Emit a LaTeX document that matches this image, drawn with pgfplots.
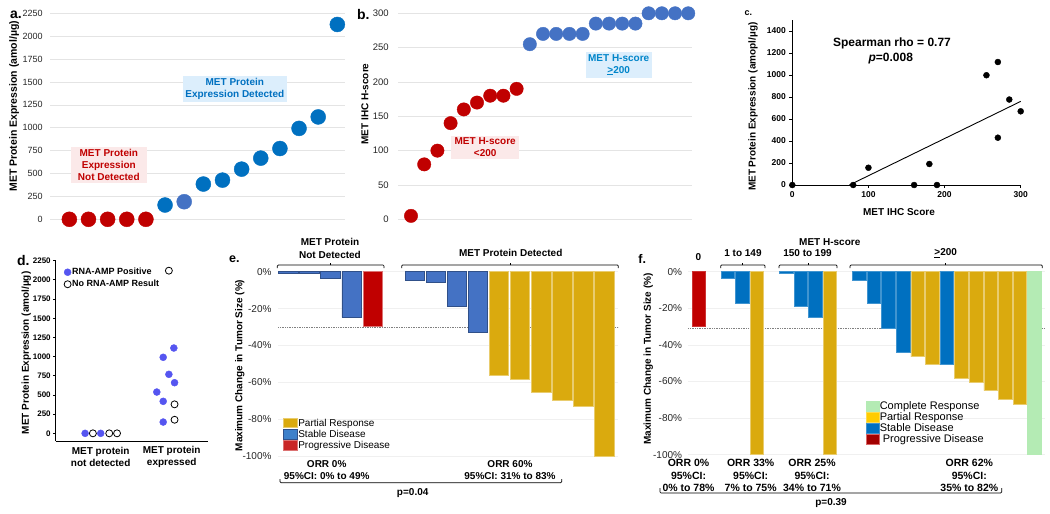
\documentclass[border=0pt]{standalone}
\usepackage{pgfplots}
\pgfplotsset{compat=1.18}
\usepackage{fontspec}
\setmainfont{Liberation Sans}
\definecolor{mred}{RGB}{192,0,0}
\definecolor{mblue}{RGB}{0,112,192}
\definecolor{mblueB}{RGB}{68,114,196}
\definecolor{myel}{RGB}{218,170,14}
\definecolor{myelL}{RGB}{255,204,0}
\definecolor{mgreen}{RGB}{180,235,180}
\definecolor{dviolet}{RGB}{85,85,240}
\definecolor{pinkbg}{RGB}{251,233,233}
\definecolor{bluebg}{RGB}{220,238,252}
\definecolor{gridc}{RGB}{228,228,228}
\definecolor{gridf}{RGB}{240,240,240}
\definecolor{txt}{RGB}{38,38,38}
\newcommand\fs[2]{\fontsize{#1}{#2}\selectfont}
\pgfplotsset{
  eb/.style={ybar, bar width=0.92, bar shift=0pt, forget plot, line width=0.6pt},
  base/.style={anchor=south west, scale only axis, clip=false,
    /pgf/number format/assume math mode=true, /pgf/number format/1000 sep={}},
}
\begin{document}
\begin{tikzpicture}
\useasboundingbox (0pt,0pt) rectangle (1050pt,-514pt);

% ---------------- Panel a ----------------
\begin{axis}[base, at={(50.2pt,-219.3pt)},
  width=294.8pt, height=206pt, xmin=0, xmax=15.4, ymin=0, ymax=2250,
  axis line style={draw=none}, xtick=\empty, ytick={0,250,...,2250},
  ymajorgrids, grid style={gridc, line width=0.7pt}, major tick length=0pt,
  yticklabel style={font=\fs{9}{10}, text=txt, xshift=-4pt}]
\addplot[only marks, mark=*, mark size=7.5pt, mred] coordinates {(1,0)(2,0)(3,0)(4,0)(5,0)};
\addplot[only marks, mark=*, mark size=7.5pt, mblue] coordinates {(6,156)(8,385)(9,428)(10,548)(11,668)(12,773)(13,993)(14,1118)(15,2128)};
\addplot[only marks, mark=*, mark size=7.5pt, mblueB] coordinates {(7,192)};
\end{axis}

% ---------------- Panel b ----------------
\begin{axis}[base, at={(397.8pt,-219.3pt)},
  width=294.4pt, height=206pt, xmin=0, xmax=22.3, ymin=0, ymax=300,
  axis line style={draw=none}, xtick=\empty, ytick={0,50,...,300},
  ymajorgrids, grid style={gridc, line width=0.7pt}, major tick length=0pt,
  yticklabel style={font=\fs{9.5}{10}, text=txt, xshift=-5.5pt}]
\addplot[only marks, mark=*, mark size=6.7pt, mred] coordinates {(1,5)(2,80)(3,100)(4,140)(5,160)(6,170)(7,180)(8,180)(9,190)};
\addplot[only marks, mark=*, mark size=6.7pt, mblueB] coordinates {(10,255)(11,270)(12,270)(13,270)(14,270)(15,285)(16,285)(17,285)(18,285)(19,300)(20,300)(21,300)(22,300)};
\end{axis}

% ---------------- Panel c ----------------
\begin{axis}[base, at={(792.3pt,-185pt)},
  width=228.4pt, height=165pt, xmin=0, xmax=300, ymin=0, ymax=1500,
  axis x line=bottom, axis y line=left, axis line style={line width=1pt, -},
  xtick={0,100,200,300}, ytick={0,200,...,1400},
  tick align=outside, major tick length=3pt, tick style={line width=0.8pt, black},
  ticklabel style={font=\bfseries\fs{8.5}{10}}]
\addplot[black, line width=0.9pt] coordinates {(75,0) (300,760)};
\addplot[only marks, mark=*, mark size=3pt, black] coordinates {(0,0)(80,0)(100,157)(160,0)(180,191)(190,0)(255,998)(270,1118)(285,777)(300,670)(270,430)};
\end{axis}

% ---------------- Panel d ----------------
\begin{axis}[base, at={(55.7pt,-441pt)},
  width=152.3pt, height=180.3pt, xmin=0.366, xmax=2.511, ymin=-100, ymax=2250,
  axis x line=bottom, axis y line=left, axis line style={line width=1pt,-},
  xtick=\empty, ytick={0,250,...,2250}, tick align=outside, major tick length=2.5pt,
  tick style={line width=0.8pt,black}, yticklabel style={font=\bfseries\fs{8}{9}, xshift=1pt},
  legend style={at={(0.054,0.965)}, anchor=north west, draw=none, fill=none,
    font=\bfseries\fs{9}{10}, inner sep=0pt, row sep=2pt, nodes={inner sep=1pt}},
  legend cell align=left,
  legend image code/.code={\draw[mark repeat=2,mark phase=2,#1] plot coordinates {(0pt,0pt)(4.5pt,0pt)(9pt,0pt)};}]
\addplot[only marks, mark=*, mark size=3.5pt, color=dviolet] coordinates {(0.78,0)(1.0,0)(1.88,991)(2.03,1112)(1.96,769)(2.04,660)(1.79,538)(1.88,417)(1.88,147)};
\addlegendentry{RNA-AMP Positive}
\addplot[only marks, mark=*, mark size=3.5pt, black, mark options={fill=white, line width=0.8pt}] coordinates {(0.89,0)(1.12,0)(1.23,0)(1.96,2120)(2.04,378)(2.04,177)};
\addlegendentry{No RNA-AMP Result}
\end{axis}

% ---------------- Panel e ----------------
\begin{axis}[base, at={(278.3pt,-456pt)},
  width=340pt, height=184.3pt, xmin=0.527, xmax=16.66, ymin=-100, ymax=0,
  axis line style={draw=none}, xtick=\empty,
  ytick={0,-20,-40,-60,-80,-100}, yticklabels={0\%,-20\%,-40\%,-60\%,-80\%,-100\%},
  ymajorgrids, grid style={gridf, line width=0.7pt}, major tick length=0pt,
  yticklabel style={font=\fs{10}{11}, text=txt, xshift=-3.3pt},
  legend style={at={(0.013,0.208)}, anchor=north west, draw=none, fill=none,
    font=\fs{10}{11}, inner sep=0pt, row sep=0.5pt, nodes={inner sep=1pt}},
  legend cell align=left,
  legend image code/.code={\draw[#1] (0pt,-4.2pt) rectangle (14pt,5.2pt);}]
\addplot[densely dotted, gray, line width=0.7pt, forget plot] coordinates {(0.527,-30)(16.66,-30)};
\addplot[eb, fill=mblueB, draw=mblueB!70!black] coordinates {(1,-0.8)(2,-0.8)(3,-3.6)(4,-24.8)(7,-4.5)(8,-5.8)(9,-18.6)(10,-32.7)};
\addplot[eb, fill=mred, draw=mred!55!white] coordinates {(5,-29.8)};
\addplot[eb, fill=myel, draw=myel!60!white] coordinates {(11,-56)(12,-58.6)(13,-65.3)(14,-69.8)(15,-73)(16,-100)};
\addlegendimage{fill=myel, draw=myel!60!white}\addlegendentry{Partial Response}
\addlegendimage{fill=mblueB!90!cyan, draw=mblueB!70!black}\addlegendentry{Stable Disease}
\addlegendimage{fill=mred!85!white, draw=mred!55!white}\addlegendentry{Progressive Disease}
\end{axis}

% ---------------- Panel f ----------------
\begin{axis}[base, at={(688.3pt,-454.7pt)},
  width=356.7pt, height=183pt, xmin=0.29, xmax=24.72, ymin=-100, ymax=0,
  axis line style={draw=none}, xtick=\empty,
  ytick={0,-20,-40,-60,-80,-100}, yticklabels={0\%,-20\%,-40\%,-60\%,-80\%,-100\%},
  ymajorgrids, grid style={gridf, line width=0.7pt}, major tick length=0pt,
  yticklabel style={font=\fs{10}{11}, text=txt, xshift=-2.7pt},
  legend style={at={(0.497,0.295)}, anchor=north west, draw=none, fill=none,
    font=\fs{11}{12}, inner sep=0pt, row sep=0pt, nodes={inner sep=0.6pt}},
  legend cell align=left,
  legend image code/.code={\draw[#1] (0pt,-4.2pt) rectangle (13pt,5.5pt);}]
\addplot[densely dotted, gray, line width=0.7pt, forget plot] coordinates {(0.29,-31)(24.72,-31)};
\addplot[eb, fill=mred, draw=mred!80!white] coordinates {(1,-30)};
\addplot[eb, fill=mblue, draw=mblue!75!white] coordinates {(3,-3.6)(4,-17)(7,-0.7)(8,-18.7)(9,-24.7)(12,-4.5)(13,-17.5)(14,-31)(15,-44)(18,-50.4)};
\addplot[eb, fill=myel, draw=myel!60!white] coordinates {(5,-100)(10,-100)(16,-46.5)(17,-50.4)(19,-58.2)(20,-60.4)(21,-65)(22,-69.5)(23,-72.5)};
\addplot[eb, fill=mgreen, draw=mgreen] coordinates {(24,-100)};
\addlegendimage{fill=mgreen, draw=mgreen}\addlegendentry{Complete Response}
\addlegendimage{fill=myelL, draw=myelL!70!white}\addlegendentry{Partial Response}
\addlegendimage{fill=mblue, draw=mblue!75!white}\addlegendentry{Stable Disease}
\addlegendimage{fill=mred!85!black, draw=mred!60!white}\addlegendentry{\ Progressive Disease}
\end{axis}

% ---------------- Annotations ----------------
% panel letters
\node[font=\bfseries\fs{14}{14}] at (16pt,-14.5pt) {a.};
\node[font=\bfseries\fs{14}{14}] at (363.3pt,-14pt) {b.};
\node[font=\bfseries\fs{9}{9}] at (748.3pt,-13.3pt) {c.};
\node[font=\bfseries\fs{14}{14}] at (23.3pt,-260pt) {d.};
\node[font=\bfseries\fs{12.5}{12.5}] at (234.3pt,-259pt) {e.};
\node[font=\bfseries\fs{12.5}{12.5}] at (642.3pt,-259pt) {f.};

% axis titles
\node[rotate=90, font=\bfseries\fs{10.5}{12}] at (14.3pt,-106.3pt) {MET Protein Expression (amol/µg)};
\node[rotate=90, font=\bfseries\fs{10}{12}] at (365pt,-104pt) {MET IHC H-score};
\node[rotate=90, font=\bfseries\fs{10}{12}] at (753pt,-106.7pt) {MET Protein Expression (amopl/µg)};
\node[font=\bfseries\fs{10}{12}] at (899pt,-211.7pt) {MET IHC Score};
\node[rotate=90, font=\bfseries\fs{10}{12}] at (26.2pt,-352.8pt) {MET Protein Expression (amol/µg)};
\node[rotate=90, font=\bfseries\fs{10}{12}] at (239.7pt,-365.5pt) {Maximum Change in Tumor Size (\%)};
\node[rotate=90, font=\bfseries\fs{10}{12}] at (648.3pt,-359pt) {Maximum Change in Tumor Size (\%)};

% panel a/b call-outs
\node[fill=pinkbg, text=mred, font=\bfseries\fs{10}{11.7}, align=center, inner xsep=7pt, inner ysep=3pt] at (108.8pt,-165pt) {MET Protein\\Expression\\Not Detected};
\node[fill=bluebg, text=mblue, font=\bfseries\fs{10}{11.7}, align=center, inner xsep=2.7pt, inner ysep=2.7pt] at (234.8pt,-89.2pt) {MET Protein\\Expression Detected};
\node[fill=pinkbg, text=mred, font=\bfseries\fs{10}{11.7}, align=center, inner xsep=3.6pt, inner ysep=2.3pt] at (485.2pt,-147.2pt) {MET H-score\\<200};
\node[fill=bluebg, text=mblue!85!cyan, font=\bfseries\fs{10}{11.7}, align=center, inner xsep=2.5pt, inner ysep=2.3pt] at (618.7pt,-65pt) {MET H-score\\\underline{>}200};

% panel c text
\node[font=\bfseries\fs{12}{14}] at (892pt,-43.3pt) {Spearman rho = 0.77};
\node[font=\bfseries\fs{12}{14}] at (890.8pt,-58.3pt) {\textit{p}=0.008};

% panel d categories
\node[font=\bfseries\fs{10}{11.7}, align=center] at (100.7pt,-456.8pt) {MET protein\\not detected};
\node[font=\bfseries\fs{10}{11.7}, align=center] at (171.7pt,-456.8pt) {MET protein\\expressed};

% panel e headers and footers
\node[font=\bfseries\fs{10}{12.3}, align=center] at (330pt,-248.5pt) {MET Protein\\Not Detected};
\node[font=\bfseries\fs{10}{12}] at (510.7pt,-253.3pt) {MET Protein Detected};
\draw[line width=0.7pt, rounded corners=1pt] (277.3pt,-268pt) -- (277.3pt,-265pt) -- (384pt,-265pt) -- (384pt,-268pt);
\draw[line width=0.7pt] (330.3pt,-265pt) -- (330.3pt,-262.5pt);
\draw[line width=0.7pt, rounded corners=1pt] (401.7pt,-268pt) -- (401.7pt,-265pt) -- (618.3pt,-265pt) -- (618.3pt,-268pt);
\draw[line width=0.7pt] (510.7pt,-265pt) -- (510.7pt,-262.5pt);
\node[font=\bfseries\fs{10}{12.2}, align=center] at (326.7pt,-469.8pt) {ORR 0\%\\95\%CI: 0\% to 49\%};
\node[font=\bfseries\fs{10}{12.2}, align=center] at (510pt,-469.8pt) {ORR 60\%\\95\%CI: 31\% to 83\%};
\draw[line width=0.7pt, rounded corners=1pt] (280pt,-479pt) -- (280pt,-482.7pt) -- (561.7pt,-482.7pt) -- (561.7pt,-479pt);
\node[font=\bfseries\fs{10}{12}] at (412.7pt,-492.7pt) {p=0.04};

% panel f headers and footers
\node[font=\bfseries\fs{10}{12}] at (829.8pt,-242pt) {MET H-score};
\node[font=\bfseries\fs{10}{12}] at (698.3pt,-256.7pt) {0};
\node[font=\bfseries\fs{10}{12}] at (743pt,-253.3pt) {1 to 149};
\node[font=\bfseries\fs{10}{12}] at (807.5pt,-253.3pt) {150 to 199};
\node[font=\bfseries\fs{10}{12}] at (945.7pt,-253.3pt) {\underline{>}200};
\draw[line width=0.7pt, rounded corners=1pt] (720.7pt,-268pt) -- (720.7pt,-265pt) -- (765pt,-265pt) -- (765pt,-268pt);
\draw[line width=0.7pt] (742.7pt,-265pt) -- (742.7pt,-262.5pt);
\draw[line width=0.7pt, rounded corners=1pt] (779pt,-268pt) -- (779pt,-265pt) -- (837pt,-265pt) -- (837pt,-268pt);
\draw[line width=0.7pt] (808.3pt,-265pt) -- (808.3pt,-262.5pt);
\draw[line width=0.7pt, rounded corners=1pt] (850pt,-268pt) -- (850pt,-265pt) -- (1042.3pt,-265pt) -- (1042.3pt,-268pt);
\draw[line width=0.7pt] (945.7pt,-265pt) -- (945.7pt,-262.5pt);
\node[font=\bfseries\fs{10.5}{12.3}, align=center] at (688.5pt,-475.5pt) {ORR 0\%\\95\%CI:\\0\% to 78\%};
\node[font=\bfseries\fs{10.5}{12.3}, align=center] at (750.7pt,-475.5pt) {ORR 33\%\\95\%CI:\\7\% to 75\%};
\node[font=\bfseries\fs{10.5}{12.3}, align=center] at (812pt,-475.5pt) {ORR 25\%\\95\%CI:\\34\% to 71\%};
\node[font=\bfseries\fs{10.5}{12.3}, align=center] at (969.3pt,-475.5pt) {ORR 62\%\\95\%CI:\\35\% to 82\%};
\draw[line width=0.7pt, rounded corners=1pt] (660pt,-488pt) -- (660pt,-493pt) -- (1001.7pt,-493pt) -- (1001.7pt,-488pt);
\node[font=\bfseries\fs{10}{12}] at (831pt,-503pt) {p=0.39};
\end{tikzpicture}
\end{document}
